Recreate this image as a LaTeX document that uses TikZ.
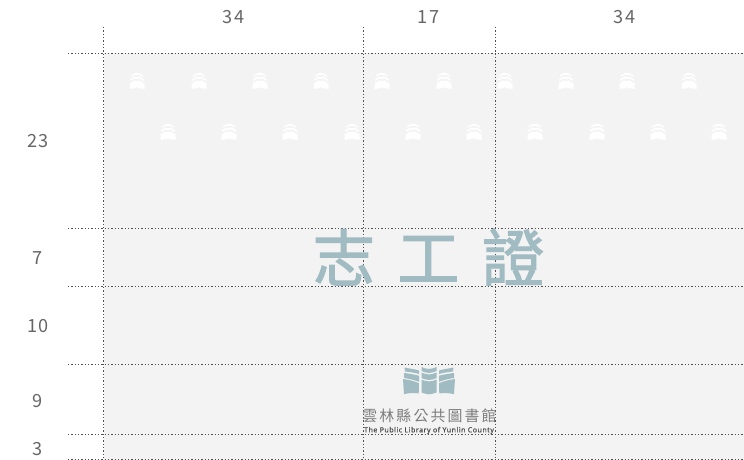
\documentclass[tikz,border=0pt]{standalone}
\usepackage{fontspec}
\setmainfont{Noto Sans CJK TC}
\newfontfamily\dimfont[LetterSpace=7]{Noto Sans CJK TC}
\newfontfamily\orgfont[LetterSpace=14]{Noto Sans CJK TC}
\newfontfamily\titlefont[FakeBold=1.8]{Noto Sans CJK TC}
\newfontfamily\latfont[LetterSpace=7,FakeBold=0.25]{Noto Sans}
\definecolor{gridc}{HTML}{505050}
\definecolor{panelc}{HTML}{F3F3F3}
\definecolor{tealc}{HTML}{A0BBC1}
\definecolor{dimc}{HTML}{666666}
\tikzset{
  x=0.75pt,y=-0.75pt,
  gridline/.style={draw=gridc,line width=0.8pt,dash pattern=on 1pt off 1.5pt},
  dimlabel/.style={text=dimc,font=\dimfont\fontsize{13.6pt}{15pt}\selectfont,inner sep=0pt,anchor=center},
  titlelabel/.style={text=tealc,font=\titlefont\fontsize{46.5pt}{50pt}\selectfont,inner sep=0pt,anchor=center},
  orglabel/.style={text=dimc!85,font=\orgfont\fontsize{11.2pt}{12pt}\selectfont,inner sep=0pt,anchor=center},
  latlabel/.style={text=black!70,font=\latfont\fontsize{5.3pt}{6pt}\selectfont,inner sep=0pt,anchor=center},
  pics/waveicon/.style={code={
    \fill[white] (-6,-5.8) -- (-2,-8) -- (2,-8) -- (6,-5.8) -- (6,-4.4) -- (2,-6.2) -- (-2,-6.2) -- (-6,-4.4) -- cycle;
    \fill[white] (-7,-1.8) -- (-2.5,-4.6) -- (0,-3.8) -- (2.5,-4.6) -- (7,-1.8) -- (7,0) -- (2.5,-2.6) -- (0,-1.8) -- (-2.5,-2.6) -- (-7,0) -- cycle;
    \fill[white] (-7.5,2.6) -- (-2.5,-0.6) -- (0,0.2) -- (2.5,-0.6) -- (7.5,2.6)
      -- (7.5,8) -- (1,7) -- (0,5.8) -- (-1,7) -- (-7.5,8) -- cycle;
  }},
  pics/logoband/.style={code={
    \fill[tealc] (-7,-11.5) .. controls (-3,-10.5) and (3,-10) .. (7.5,-8.5) -- (7.5,-5) .. controls (3,-6.5) and (-3,-7) .. (-6.5,-7.5) -- cycle;
    \fill[tealc] (-7.5,-6) .. controls (-3,-5.5) and (3,-4.5) .. (7.5,-3.2) -- (7.5,2.8) .. controls (3,1) and (-3,-0.3) .. (-7.5,-1) -- cycle;
    \fill[tealc] (-8.5,0) .. controls (-3,0.7) and (3,2.2) .. (7.5,4.2) -- (7.2,14.5) .. controls (3,13.5) and (-3,14) .. (-7.5,15.2) -- cycle;
  }},
  pics/logomid/.style={code={
    \fill[tealc] (-7.5,-12) .. controls (-3,-9.5) and (3,-9.5) .. (7.5,-12) -- (7.5,-8) .. controls (3,-5.5) and (-3,-5.5) .. (-7.5,-8) -- cycle;
    \fill[tealc] (-7.5,-6.5) .. controls (-3,-4) and (3,-4) .. (7.5,-6.5) -- (7.5,-1) .. controls (3,1.5) and (-3,1.5) .. (-7.5,-1) -- cycle;
    \fill[tealc] (-7.5,0.5) .. controls (-3,3) and (3,3) .. (7.5,0.5) -- (7.5,13.5) .. controls (3,15) and (1,15.3) .. (0,15.3) .. controls (-1,15.3) and (-3,15) .. (-7.5,13.5) -- cycle;
  }}
}
\begin{document}
\begin{tikzpicture}
\useasboundingbox (0,0) rectangle (744,460);
\fill[panelc] (103.5,53) rectangle (744,460);
% white wave pattern
\foreach \px in {137,199,260,321,382,444,505,566,627,689}
  \pic at (\px,81) {waveicon};
\foreach \px in {168,229,290,352,413,474,535,597,658,719}
  \pic at (\px,132) {waveicon};
% grid
\foreach \gy in {53.5,228.5,286.5,364.5,434.5,459.5}
  \draw[gridline] (68,\gy) -- (744,\gy);
\foreach \gx in {103.5,363.5,495.5}
  \draw[gridline] (\gx,27) -- (\gx,460);
% dimensions
\node[dimlabel] (top1) at (233.5,17) {34};
\node[dimlabel] (top2) at (428.5,17) {17};
\node[dimlabel] (top3) at (624.5,17) {34};
\node[dimlabel] (left1) at (38,141.5) {23};
\node[dimlabel] (left2) at (38,258.5) {7};
\node[dimlabel] (left3) at (38,326.5) {10};
\node[dimlabel] (left4) at (38,401.5) {9};
\node[dimlabel] (left5) at (38,449.5) {3};
% title
\node[titlelabel] (title) at (428.5,257) {志\hspace{17pt}工\hspace{17pt}證};
% logo
\begin{scope}
  \clip (395,365.2) rectangle (465,400);
  \pic at (411.5,379) {logoband};
  \pic at (429,379) {logomid};
  \pic[xscale=-1] at (446.5,379) {logoband};
\end{scope}
\node[orglabel] (org) at (429.5,415.5) {雲林縣公共圖書館};
\node[latlabel] (orgen) at (429,430.5) {The Public Library of Yunlin County};
\end{tikzpicture}
\end{document}
